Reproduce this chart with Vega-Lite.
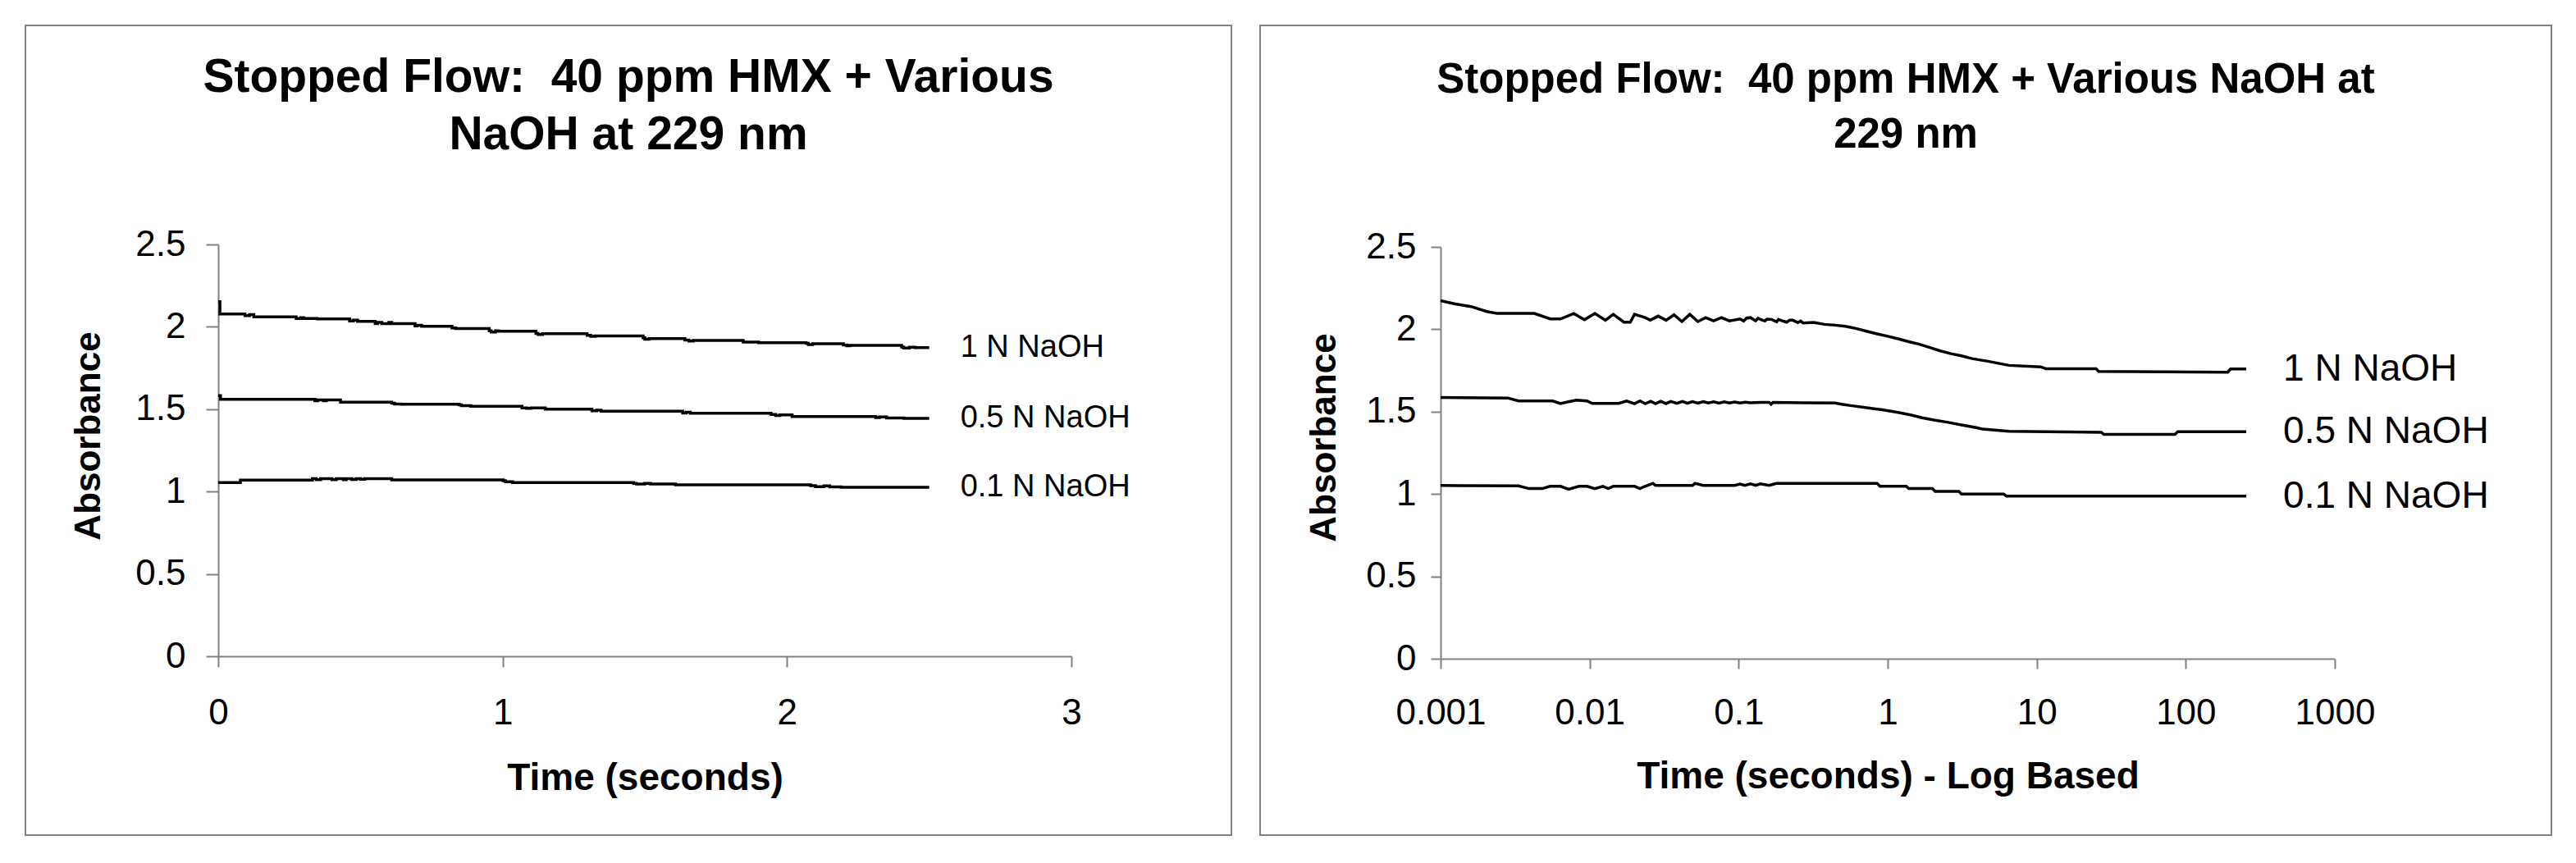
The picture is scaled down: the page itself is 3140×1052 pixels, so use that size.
{
  "$schema": "https://vega.github.io/schema/vega-lite/v6.json",
  "background": "white",
  "padding": {"left": 30, "top": 30, "right": 0, "bottom": 0},
  "spacing": 33,
  "config": {
    "font": "Liberation Sans",
    "view": {"stroke": "#808080", "strokeWidth": 2},
    "axis": {
      "grid": false,
      "domainColor": "#808080",
      "tickColor": "#808080",
      "domainWidth": 2,
      "tickWidth": 2,
      "labelColor": "#000000",
      "titleColor": "#000000",
      "labelFont": "Liberation Sans",
      "titleFont": "Liberation Sans",
      "labelFontSize": 44,
      "titleFontSize": 46,
      "titleFontWeight": "bold",
      "labelFlush": false,
      "labelOverlap": false,
      "labelBound": false
    },
    "title": {
      "font": "Liberation Sans",
      "fontWeight": "bold",
      "color": "#000000",
      "anchor": "middle",
      "frame": "group",
      "baseline": "alphabetic"
    }
  },
  "datasets": {
    "lin": [
      {"series": "1 N NaOH", "t": 0, "v": 2.153},
      {"series": "1 N NaOH", "t": 0.006, "v": 2.078},
      {"series": "1 N NaOH", "t": 0.094, "v": 2.068},
      {"series": "1 N NaOH", "t": 0.11, "v": 2.074},
      {"series": "1 N NaOH", "t": 0.125, "v": 2.061},
      {"series": "1 N NaOH", "t": 0.274, "v": 2.05},
      {"series": "1 N NaOH", "t": 0.29, "v": 2.056},
      {"series": "1 N NaOH", "t": 0.3, "v": 2.05},
      {"series": "1 N NaOH", "t": 0.348, "v": 2.048},
      {"series": "1 N NaOH", "t": 0.462, "v": 2.036},
      {"series": "1 N NaOH", "t": 0.475, "v": 2.041},
      {"series": "1 N NaOH", "t": 0.49, "v": 2.033},
      {"series": "1 N NaOH", "t": 0.552, "v": 2.02},
      {"series": "1 N NaOH", "t": 0.56, "v": 2.027},
      {"series": "1 N NaOH", "t": 0.575, "v": 2.02},
      {"series": "1 N NaOH", "t": 0.6, "v": 2.027},
      {"series": "1 N NaOH", "t": 0.61, "v": 2.02},
      {"series": "1 N NaOH", "t": 0.692, "v": 2.006},
      {"series": "1 N NaOH", "t": 0.7, "v": 2.01},
      {"series": "1 N NaOH", "t": 0.715, "v": 2.003},
      {"series": "1 N NaOH", "t": 0.822, "v": 1.993},
      {"series": "1 N NaOH", "t": 0.835, "v": 1.99},
      {"series": "1 N NaOH", "t": 0.953, "v": 1.976},
      {"series": "1 N NaOH", "t": 0.96, "v": 1.969},
      {"series": "1 N NaOH", "t": 0.975, "v": 1.976},
      {"series": "1 N NaOH", "t": 0.985, "v": 1.973},
      {"series": "1 N NaOH", "t": 1.117, "v": 1.96},
      {"series": "1 N NaOH", "t": 1.125, "v": 1.953},
      {"series": "1 N NaOH", "t": 1.14, "v": 1.958},
      {"series": "1 N NaOH", "t": 1.297, "v": 1.948},
      {"series": "1 N NaOH", "t": 1.31, "v": 1.942},
      {"series": "1 N NaOH", "t": 1.325, "v": 1.945},
      {"series": "1 N NaOH", "t": 1.494, "v": 1.933},
      {"series": "1 N NaOH", "t": 1.5, "v": 1.925},
      {"series": "1 N NaOH", "t": 1.515, "v": 1.929},
      {"series": "1 N NaOH", "t": 1.641, "v": 1.92},
      {"series": "1 N NaOH", "t": 1.655, "v": 1.913},
      {"series": "1 N NaOH", "t": 1.67, "v": 1.917},
      {"series": "1 N NaOH", "t": 1.846, "v": 1.907},
      {"series": "1 N NaOH", "t": 1.9, "v": 1.904},
      {"series": "1 N NaOH", "t": 2.067, "v": 1.9},
      {"series": "1 N NaOH", "t": 2.075, "v": 1.893},
      {"series": "1 N NaOH", "t": 2.09, "v": 1.897},
      {"series": "1 N NaOH", "t": 2.198, "v": 1.89},
      {"series": "1 N NaOH", "t": 2.21, "v": 1.885},
      {"series": "1 N NaOH", "t": 2.22, "v": 1.887},
      {"series": "1 N NaOH", "t": 2.403, "v": 1.878},
      {"series": "1 N NaOH", "t": 2.41, "v": 1.871},
      {"series": "1 N NaOH", "t": 2.43, "v": 1.876},
      {"series": "1 N NaOH", "t": 2.45, "v": 1.874},
      {"series": "1 N NaOH", "t": 2.5, "v": 1.874},
      {"series": "0.5 N NaOH", "t": 0, "v": 1.583},
      {"series": "0.5 N NaOH", "t": 0.008, "v": 1.56},
      {"series": "0.5 N NaOH", "t": 0.34, "v": 1.551},
      {"series": "0.5 N NaOH", "t": 0.35, "v": 1.556},
      {"series": "0.5 N NaOH", "t": 0.37, "v": 1.551},
      {"series": "0.5 N NaOH", "t": 0.38, "v": 1.556},
      {"series": "0.5 N NaOH", "t": 0.43, "v": 1.543},
      {"series": "0.5 N NaOH", "t": 0.61, "v": 1.536},
      {"series": "0.5 N NaOH", "t": 0.62, "v": 1.531},
      {"series": "0.5 N NaOH", "t": 0.642, "v": 1.53},
      {"series": "0.5 N NaOH", "t": 0.847, "v": 1.527},
      {"series": "0.5 N NaOH", "t": 0.855, "v": 1.522},
      {"series": "0.5 N NaOH", "t": 0.888, "v": 1.518},
      {"series": "0.5 N NaOH", "t": 1.068, "v": 1.508},
      {"series": "0.5 N NaOH", "t": 1.085, "v": 1.505},
      {"series": "0.5 N NaOH", "t": 1.1, "v": 1.508},
      {"series": "0.5 N NaOH", "t": 1.15, "v": 1.5},
      {"series": "0.5 N NaOH", "t": 1.314, "v": 1.49},
      {"series": "0.5 N NaOH", "t": 1.33, "v": 1.494},
      {"series": "0.5 N NaOH", "t": 1.346, "v": 1.488},
      {"series": "0.5 N NaOH", "t": 1.633, "v": 1.477},
      {"series": "0.5 N NaOH", "t": 1.645, "v": 1.481},
      {"series": "0.5 N NaOH", "t": 1.66, "v": 1.475},
      {"series": "0.5 N NaOH", "t": 1.944, "v": 1.468},
      {"series": "0.5 N NaOH", "t": 1.96, "v": 1.462},
      {"series": "0.5 N NaOH", "t": 1.975, "v": 1.466},
      {"series": "0.5 N NaOH", "t": 2.018, "v": 1.455},
      {"series": "0.5 N NaOH", "t": 2.312, "v": 1.449},
      {"series": "0.5 N NaOH", "t": 2.325, "v": 1.453},
      {"series": "0.5 N NaOH", "t": 2.35, "v": 1.447},
      {"series": "0.5 N NaOH", "t": 2.411, "v": 1.444},
      {"series": "0.5 N NaOH", "t": 2.5, "v": 1.444},
      {"series": "0.1 N NaOH", "t": 0, "v": 1.055},
      {"series": "0.1 N NaOH", "t": 0.078, "v": 1.07},
      {"series": "0.1 N NaOH", "t": 0.331, "v": 1.078},
      {"series": "0.1 N NaOH", "t": 0.345, "v": 1.072},
      {"series": "0.1 N NaOH", "t": 0.36, "v": 1.078},
      {"series": "0.1 N NaOH", "t": 0.4, "v": 1.072},
      {"series": "0.1 N NaOH", "t": 0.415, "v": 1.078},
      {"series": "0.1 N NaOH", "t": 0.44, "v": 1.072},
      {"series": "0.1 N NaOH", "t": 0.45, "v": 1.078},
      {"series": "0.1 N NaOH", "t": 0.47, "v": 1.073},
      {"series": "0.1 N NaOH", "t": 0.485, "v": 1.078},
      {"series": "0.1 N NaOH", "t": 0.5, "v": 1.074},
      {"series": "0.1 N NaOH", "t": 0.515, "v": 1.078},
      {"series": "0.1 N NaOH", "t": 0.61, "v": 1.071},
      {"series": "0.1 N NaOH", "t": 1.002, "v": 1.066},
      {"series": "0.1 N NaOH", "t": 1.01, "v": 1.06},
      {"series": "0.1 N NaOH", "t": 1.035, "v": 1.055},
      {"series": "0.1 N NaOH", "t": 1.461, "v": 1.05},
      {"series": "0.1 N NaOH", "t": 1.47, "v": 1.046},
      {"series": "0.1 N NaOH", "t": 1.5, "v": 1.05},
      {"series": "0.1 N NaOH", "t": 1.52, "v": 1.046},
      {"series": "0.1 N NaOH", "t": 1.608, "v": 1.041},
      {"series": "0.1 N NaOH", "t": 2.083, "v": 1.036},
      {"series": "0.1 N NaOH", "t": 2.1, "v": 1.03},
      {"series": "0.1 N NaOH", "t": 2.13, "v": 1.035},
      {"series": "0.1 N NaOH", "t": 2.15, "v": 1.029},
      {"series": "0.1 N NaOH", "t": 2.19, "v": 1.026},
      {"series": "0.1 N NaOH", "t": 2.5, "v": 1.026}
    ],
    "log": [
      {"series": "1 N NaOH", "t": 0.001, "v": 2.174},
      {"series": "1 N NaOH", "t": 0.00125, "v": 2.154},
      {"series": "1 N NaOH", "t": 0.0016, "v": 2.138},
      {"series": "1 N NaOH", "t": 0.00204, "v": 2.108},
      {"series": "1 N NaOH", "t": 0.0024, "v": 2.096},
      {"series": "1 N NaOH", "t": 0.00425, "v": 2.096},
      {"series": "1 N NaOH", "t": 0.00543, "v": 2.063},
      {"series": "1 N NaOH", "t": 0.00638, "v": 2.063},
      {"series": "1 N NaOH", "t": 0.00783, "v": 2.096},
      {"series": "1 N NaOH", "t": 0.00922, "v": 2.058},
      {"series": "1 N NaOH", "t": 0.01084, "v": 2.096},
      {"series": "1 N NaOH", "t": 0.01276, "v": 2.055},
      {"series": "1 N NaOH", "t": 0.01442, "v": 2.091},
      {"series": "1 N NaOH", "t": 0.01698, "v": 2.043},
      {"series": "1 N NaOH", "t": 0.01875, "v": 2.043},
      {"series": "1 N NaOH", "t": 0.02, "v": 2.091},
      {"series": "1 N NaOH", "t": 0.02355, "v": 2.071},
      {"series": "1 N NaOH", "t": 0.02553, "v": 2.055},
      {"series": "1 N NaOH", "t": 0.02884, "v": 2.08},
      {"series": "1 N NaOH", "t": 0.0326, "v": 2.055},
      {"series": "1 N NaOH", "t": 0.0368, "v": 2.088},
      {"series": "1 N NaOH", "t": 0.0416, "v": 2.047},
      {"series": "1 N NaOH", "t": 0.047, "v": 2.091},
      {"series": "1 N NaOH", "t": 0.0532, "v": 2.047},
      {"series": "1 N NaOH", "t": 0.0601, "v": 2.071},
      {"series": "1 N NaOH", "t": 0.0679, "v": 2.051},
      {"series": "1 N NaOH", "t": 0.0767, "v": 2.071},
      {"series": "1 N NaOH", "t": 0.0867, "v": 2.051},
      {"series": "1 N NaOH", "t": 0.1021, "v": 2.063},
      {"series": "1 N NaOH", "t": 0.108, "v": 2.05},
      {"series": "1 N NaOH", "t": 0.113, "v": 2.068},
      {"series": "1 N NaOH", "t": 0.12, "v": 2.071},
      {"series": "1 N NaOH", "t": 0.13, "v": 2.052},
      {"series": "1 N NaOH", "t": 0.135, "v": 2.067},
      {"series": "1 N NaOH", "t": 0.1413, "v": 2.058},
      {"series": "1 N NaOH", "t": 0.15, "v": 2.05},
      {"series": "1 N NaOH", "t": 0.155, "v": 2.062},
      {"series": "1 N NaOH", "t": 0.1663, "v": 2.06},
      {"series": "1 N NaOH", "t": 0.18, "v": 2.045},
      {"series": "1 N NaOH", "t": 0.185, "v": 2.06},
      {"series": "1 N NaOH", "t": 0.196, "v": 2.051},
      {"series": "1 N NaOH", "t": 0.21, "v": 2.043},
      {"series": "1 N NaOH", "t": 0.22, "v": 2.055},
      {"series": "1 N NaOH", "t": 0.2305, "v": 2.055},
      {"series": "1 N NaOH", "t": 0.25, "v": 2.04},
      {"series": "1 N NaOH", "t": 0.26, "v": 2.05},
      {"series": "1 N NaOH", "t": 0.271, "v": 2.038},
      {"series": "1 N NaOH", "t": 0.319, "v": 2.042},
      {"series": "1 N NaOH", "t": 0.376, "v": 2.03},
      {"series": "1 N NaOH", "t": 0.443, "v": 2.025},
      {"series": "1 N NaOH", "t": 0.52, "v": 2.018},
      {"series": "1 N NaOH", "t": 0.612, "v": 2.005},
      {"series": "1 N NaOH", "t": 0.721, "v": 1.988},
      {"series": "1 N NaOH", "t": 0.849, "v": 1.972},
      {"series": "1 N NaOH", "t": 1.0, "v": 1.958},
      {"series": "1 N NaOH", "t": 1.175, "v": 1.942},
      {"series": "1 N NaOH", "t": 1.383, "v": 1.925},
      {"series": "1 N NaOH", "t": 1.629, "v": 1.909},
      {"series": "1 N NaOH", "t": 1.918, "v": 1.889},
      {"series": "1 N NaOH", "t": 2.256, "v": 1.869},
      {"series": "1 N NaOH", "t": 2.656, "v": 1.852},
      {"series": "1 N NaOH", "t": 3.126, "v": 1.839},
      {"series": "1 N NaOH", "t": 3.68, "v": 1.822},
      {"series": "1 N NaOH", "t": 4.7, "v": 1.806},
      {"series": "1 N NaOH", "t": 6.51, "v": 1.781},
      {"series": "1 N NaOH", "t": 10.6, "v": 1.772},
      {"series": "1 N NaOH", "t": 11.5, "v": 1.761},
      {"series": "1 N NaOH", "t": 25.0, "v": 1.761},
      {"series": "1 N NaOH", "t": 26.0, "v": 1.744},
      {"series": "1 N NaOH", "t": 191, "v": 1.739},
      {"series": "1 N NaOH", "t": 199.5, "v": 1.759},
      {"series": "1 N NaOH", "t": 254.7, "v": 1.759},
      {"series": "0.5 N NaOH", "t": 0.001, "v": 1.586},
      {"series": "0.5 N NaOH", "t": 0.00282, "v": 1.583},
      {"series": "0.5 N NaOH", "t": 0.00333, "v": 1.565},
      {"series": "0.5 N NaOH", "t": 0.00565, "v": 1.565},
      {"series": "0.5 N NaOH", "t": 0.00638, "v": 1.549},
      {"series": "0.5 N NaOH", "t": 0.00721, "v": 1.56},
      {"series": "0.5 N NaOH", "t": 0.00816, "v": 1.57},
      {"series": "0.5 N NaOH", "t": 0.0096, "v": 1.565},
      {"series": "0.5 N NaOH", "t": 0.01042, "v": 1.55},
      {"series": "0.5 N NaOH", "t": 0.01567, "v": 1.55},
      {"series": "0.5 N NaOH", "t": 0.0177, "v": 1.565},
      {"series": "0.5 N NaOH", "t": 0.02, "v": 1.548},
      {"series": "0.5 N NaOH", "t": 0.0218, "v": 1.565},
      {"series": "0.5 N NaOH", "t": 0.0236, "v": 1.548},
      {"series": "0.5 N NaOH", "t": 0.0257, "v": 1.563},
      {"series": "0.5 N NaOH", "t": 0.0277, "v": 1.548},
      {"series": "0.5 N NaOH", "t": 0.03, "v": 1.563},
      {"series": "0.5 N NaOH", "t": 0.0326, "v": 1.549},
      {"series": "0.5 N NaOH", "t": 0.035, "v": 1.562},
      {"series": "0.5 N NaOH", "t": 0.0384, "v": 1.55},
      {"series": "0.5 N NaOH", "t": 0.042, "v": 1.562},
      {"series": "0.5 N NaOH", "t": 0.0452, "v": 1.551},
      {"series": "0.5 N NaOH", "t": 0.049, "v": 1.561},
      {"series": "0.5 N NaOH", "t": 0.0532, "v": 1.552},
      {"series": "0.5 N NaOH", "t": 0.058, "v": 1.561},
      {"series": "0.5 N NaOH", "t": 0.0626, "v": 1.553},
      {"series": "0.5 N NaOH", "t": 0.068, "v": 1.56},
      {"series": "0.5 N NaOH", "t": 0.0737, "v": 1.552},
      {"series": "0.5 N NaOH", "t": 0.08, "v": 1.56},
      {"series": "0.5 N NaOH", "t": 0.0867, "v": 1.553},
      {"series": "0.5 N NaOH", "t": 0.094, "v": 1.559},
      {"series": "0.5 N NaOH", "t": 0.102, "v": 1.553},
      {"series": "0.5 N NaOH", "t": 0.111, "v": 1.558},
      {"series": "0.5 N NaOH", "t": 0.12, "v": 1.554},
      {"series": "0.5 N NaOH", "t": 0.141, "v": 1.556},
      {"series": "0.5 N NaOH", "t": 0.16, "v": 1.556},
      {"series": "0.5 N NaOH", "t": 0.165, "v": 1.545},
      {"series": "0.5 N NaOH", "t": 0.17, "v": 1.556},
      {"series": "0.5 N NaOH", "t": 0.271, "v": 1.554},
      {"series": "0.5 N NaOH", "t": 0.443, "v": 1.552},
      {"series": "0.5 N NaOH", "t": 0.5, "v": 1.544},
      {"series": "0.5 N NaOH", "t": 0.565, "v": 1.537},
      {"series": "0.5 N NaOH", "t": 0.721, "v": 1.524},
      {"series": "0.5 N NaOH", "t": 0.921, "v": 1.511},
      {"series": "0.5 N NaOH", "t": 1.175, "v": 1.495},
      {"series": "0.5 N NaOH", "t": 1.441, "v": 1.479},
      {"series": "0.5 N NaOH", "t": 1.698, "v": 1.463},
      {"series": "0.5 N NaOH", "t": 2.08, "v": 1.448},
      {"series": "0.5 N NaOH", "t": 2.55, "v": 1.435},
      {"series": "0.5 N NaOH", "t": 3.126, "v": 1.419},
      {"series": "0.5 N NaOH", "t": 3.99, "v": 1.402},
      {"series": "0.5 N NaOH", "t": 4.33, "v": 1.394},
      {"series": "0.5 N NaOH", "t": 6.51, "v": 1.381},
      {"series": "0.5 N NaOH", "t": 27.1, "v": 1.375},
      {"series": "0.5 N NaOH", "t": 28.2, "v": 1.362},
      {"series": "0.5 N NaOH", "t": 84.7, "v": 1.362},
      {"series": "0.5 N NaOH", "t": 88.3, "v": 1.378},
      {"series": "0.5 N NaOH", "t": 254.7, "v": 1.378},
      {"series": "0.1 N NaOH", "t": 0.001, "v": 1.052},
      {"series": "0.1 N NaOH", "t": 0.00333, "v": 1.049},
      {"series": "0.1 N NaOH", "t": 0.00392, "v": 1.033},
      {"series": "0.1 N NaOH", "t": 0.00481, "v": 1.033},
      {"series": "0.1 N NaOH", "t": 0.00543, "v": 1.047},
      {"series": "0.1 N NaOH", "t": 0.00638, "v": 1.047},
      {"series": "0.1 N NaOH", "t": 0.00721, "v": 1.029},
      {"series": "0.1 N NaOH", "t": 0.00849, "v": 1.047},
      {"series": "0.1 N NaOH", "t": 0.0096, "v": 1.047},
      {"series": "0.1 N NaOH", "t": 0.01084, "v": 1.033},
      {"series": "0.1 N NaOH", "t": 0.01227, "v": 1.047},
      {"series": "0.1 N NaOH", "t": 0.0133, "v": 1.033},
      {"series": "0.1 N NaOH", "t": 0.01442, "v": 1.047},
      {"series": "0.1 N NaOH", "t": 0.02, "v": 1.047},
      {"series": "0.1 N NaOH", "t": 0.0217, "v": 1.033},
      {"series": "0.1 N NaOH", "t": 0.02355, "v": 1.047},
      {"series": "0.1 N NaOH", "t": 0.0266, "v": 1.065},
      {"series": "0.1 N NaOH", "t": 0.0277, "v": 1.052},
      {"series": "0.1 N NaOH", "t": 0.049, "v": 1.052},
      {"series": "0.1 N NaOH", "t": 0.051, "v": 1.065},
      {"series": "0.1 N NaOH", "t": 0.0577, "v": 1.052},
      {"series": "0.1 N NaOH", "t": 0.094, "v": 1.052},
      {"series": "0.1 N NaOH", "t": 0.102, "v": 1.06},
      {"series": "0.1 N NaOH", "t": 0.11, "v": 1.052},
      {"series": "0.1 N NaOH", "t": 0.12, "v": 1.062},
      {"series": "0.1 N NaOH", "t": 0.13, "v": 1.052},
      {"series": "0.1 N NaOH", "t": 0.14, "v": 1.062},
      {"series": "0.1 N NaOH", "t": 0.16, "v": 1.052},
      {"series": "0.1 N NaOH", "t": 0.175, "v": 1.062},
      {"series": "0.1 N NaOH", "t": 0.18, "v": 1.065},
      {"series": "0.1 N NaOH", "t": 0.849, "v": 1.065},
      {"series": "0.1 N NaOH", "t": 0.885, "v": 1.047},
      {"series": "0.1 N NaOH", "t": 1.33, "v": 1.047},
      {"series": "0.1 N NaOH", "t": 1.383, "v": 1.033},
      {"series": "0.1 N NaOH", "t": 1.996, "v": 1.033},
      {"series": "0.1 N NaOH", "t": 2.08, "v": 1.016},
      {"series": "0.1 N NaOH", "t": 3.0, "v": 1.016},
      {"series": "0.1 N NaOH", "t": 3.126, "v": 1.0},
      {"series": "0.1 N NaOH", "t": 6.0, "v": 1.0},
      {"series": "0.1 N NaOH", "t": 6.25, "v": 0.987},
      {"series": "0.1 N NaOH", "t": 254.7, "v": 0.987}
    ]
  },
  "hconcat": [
    {
      "width": 1470,
      "height": 987,
      "title": {
        "text": ["Stopped Flow: \u00a040 ppm HMX + Various", "NaOH at 229 nm"],
        "fontSize": 57,
        "lineHeight": 70,
        "offset": -163
      },
      "data": {"name": "lin"},
      "encoding": {
        "x": {
          "field": "t",
          "type": "quantitative",
          "scale": {"domain": [0, 3], "range": [235, 1275], "nice": false, "zero": false},
          "axis": {
            "title": "Time (seconds)",
            "values": [0, 1, 2, 3],
            "format": "~g",
            "offset": -218,
            "tickSize": 13,
            "labelPadding": 69,
            "labelBaseline": "alphabetic",
            "titleBaseline": "alphabetic",
            "titleY": 162
          }
        },
        "y": {
          "field": "v",
          "type": "quantitative",
          "scale": {"domain": [0, 2.5], "range": [769, 267], "nice": false, "zero": false},
          "axis": {
            "title": "Absorbance",
            "values": [0, 0.5, 1, 1.5, 2, 2.5],
            "format": "~g",
            "offset": -235,
            "tickSize": 15,
            "labelPadding": 25,
            "titleFontSize": 44,
            "titleX": -145,
            "titleY": 500,
            "titleAngle": 270,
            "titleAlign": "center",
            "titleBaseline": "alphabetic"
          }
        }
      },
      "layer": [
        {
          "mark": {"type": "line", "interpolate": "step-after", "color": "#000000", "strokeWidth": 3.5},
          "encoding": {"detail": {"field": "series"}}
        },
        {
          "transform": [
            {"joinaggregate": [{"op": "max", "field": "t", "as": "tmax"}], "groupby": ["series"]},
            {"filter": "datum.t === datum.tmax"}
          ],
          "mark": {"type": "text", "align": "left", "baseline": "middle", "dx": 38, "fontSize": 38, "font": "Liberation Sans", "color": "#000000"},
          "encoding": {"text": {"field": "series"}}
        }
      ]
    },
    {
      "width": 1574,
      "height": 987,
      "title": {
        "text": ["Stopped Flow: \u00a040 ppm HMX + Various NaOH at", "229 nm"],
        "fontSize": 51,
        "lineHeight": 67,
        "offset": -160
      },
      "data": {"name": "log"},
      "encoding": {
        "x": {
          "field": "t",
          "type": "quantitative",
          "scale": {"type": "log", "domain": [0.001, 1000], "range": [220, 1310], "nice": false},
          "axis": {
            "title": "Time (seconds) - Log Based",
            "values": [0.001, 0.01, 0.1, 1, 10, 100, 1000],
            "format": "~g",
            "offset": -215,
            "tickSize": 12,
            "labelPadding": 67,
            "labelBaseline": "alphabetic",
            "titleBaseline": "alphabetic",
            "titleY": 157
          }
        },
        "y": {
          "field": "v",
          "type": "quantitative",
          "scale": {"domain": [0, 2.5], "range": [772, 270], "nice": false, "zero": false},
          "axis": {
            "title": "Absorbance",
            "values": [0, 0.5, 1, 1.5, 2, 2.5],
            "format": "~g",
            "offset": -220,
            "tickSize": 12,
            "labelPadding": 18,
            "titleFontSize": 44,
            "titleX": -129,
            "titleY": 502,
            "titleAngle": 270,
            "titleAlign": "center",
            "titleBaseline": "alphabetic"
          }
        }
      },
      "layer": [
        {
          "mark": {"type": "line", "color": "#000000", "strokeWidth": 3.5},
          "encoding": {"detail": {"field": "series"}}
        },
        {
          "transform": [
            {"joinaggregate": [{"op": "max", "field": "t", "as": "tmax"}], "groupby": ["series"]},
            {"filter": "datum.t === datum.tmax"}
          ],
          "mark": {"type": "text", "align": "left", "baseline": "middle", "dx": 45, "fontSize": 46, "font": "Liberation Sans", "color": "#000000"},
          "encoding": {"text": {"field": "series"}}
        }
      ]
    }
  ]
}
